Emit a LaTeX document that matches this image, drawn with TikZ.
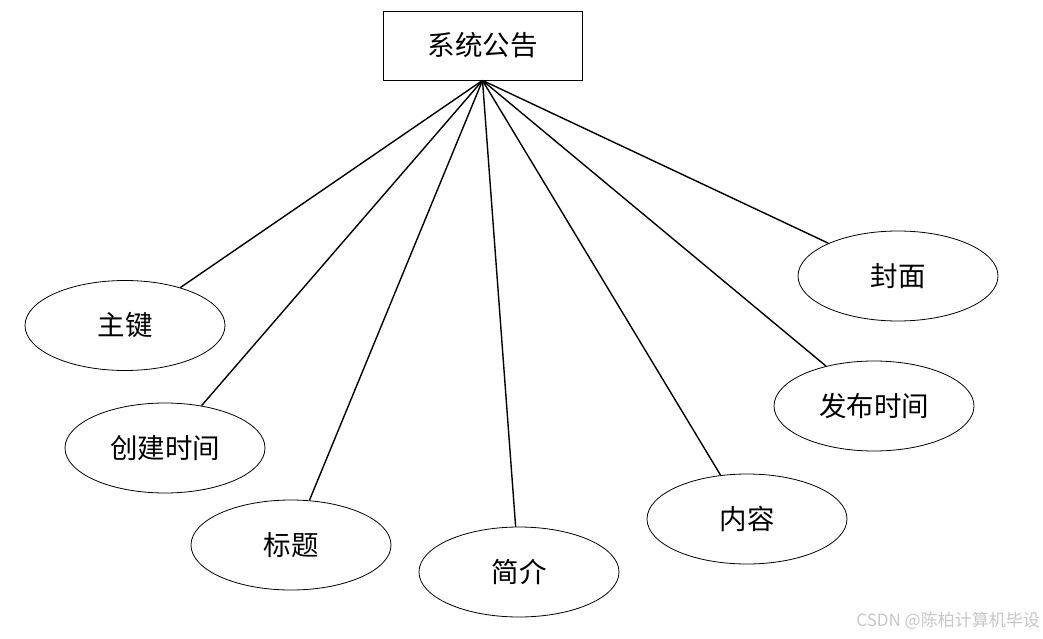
\documentclass[tikz,border=0pt]{standalone}
\usepackage{fontspec}
\setmainfont{Noto Sans CJK SC}
\usetikzlibrary{shapes.geometric}
\begin{document}
\begin{tikzpicture}[x=1pt,y=-1pt,
  entity/.style={draw, line width=0.9pt, minimum width=199pt, minimum height=69pt, inner sep=0pt, font=\fontsize{27.5}{32}\selectfont},
  attr/.style={draw, ellipse, line width=0.8pt, minimum width=200pt, minimum height=90pt, inner sep=0pt, font=\fontsize{27.5}{32}\selectfont},
  link/.style={line width=1.4pt}]
\useasboundingbox (0,0) rectangle (1043,639);
\node[entity] (sys) at (482.5,45.5) {系统公告};
\node[attr] (a1) at (125,325.5) {主键};
\node[attr] (a2) at (165,448) {创建时间};
\node[attr] (a3) at (291,545) {标题};
\node[attr] (a4) at (519,572) {简介};
\node[attr] (a5) at (747,519) {内容};
\node[attr] (a6) at (874,406) {发布时间};
\node[attr] (a7) at (898,276) {封面};
\foreach \n in {a1,a2,a3,a4,a5,a6,a7}
  \draw[link] (sys.south) -- (\n);
\node[anchor=east, text=black!22, font=\fontsize{17}{20}\selectfont, inner sep=0pt] (wm) at (1040,621) {CSDN @陈柏计算机毕设};
\end{tikzpicture}
\end{document}
